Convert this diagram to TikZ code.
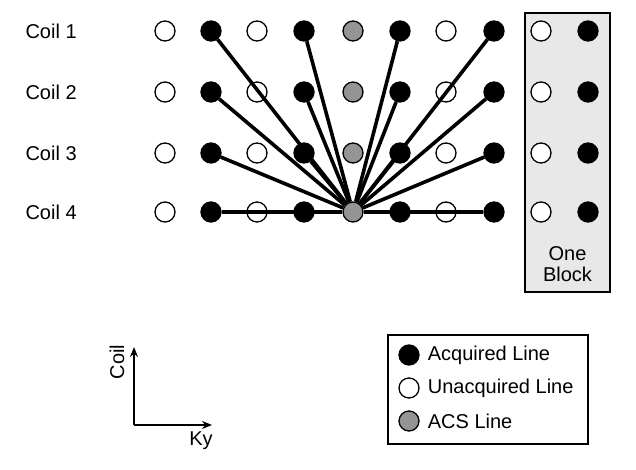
\documentclass[tikz,border=0pt]{standalone}
\usepackage{fontspec}
\setmainfont{Liberation Sans}
\usetikzlibrary{arrows.meta}
\tikzset{
  dot/.style={circle,draw,line width=1.3pt,minimum size=20pt,inner sep=0pt},
  acq/.style={dot,fill=black},
  unacq/.style={dot,fill=white},
  acs/.style={dot,fill=black!42},
  link/.style={line width=3.6pt},
  frame/.style={draw,line width=1.3pt},
  axis/.style={line width=1.5pt,-{Stealth[length=10pt,width=8pt]}}
}
\begin{document}
\begin{tikzpicture}[x=1pt,y=-1pt,font=\fontsize{20}{24}\selectfont]
        \useasboundingbox (0,0) rectangle (636,470);
        % block
        \draw[frame,fill=black!9] (525,13) rectangle (610,292);
        \node[align=center] (blk) at (567.5,264) {One\\[-3pt]Block};
        % grid of lines
        \foreach \r/\y in {1/31,2/92,3/153,4/212} {
            \node[anchor=west] (coil\r) at (22,\y) {Coil \r};
            \foreach \c/\x/\s in {1/165/unacq,2/211/acq,3/257/unacq,4/304/acq,5/353/acs,6/400/acq,7/446/unacq,8/494/acq,9/541/unacq,10/588/acq}
                \node[\s] (p\r-\c) at (\x,\y) {};
        }
        % ACS fits
        \foreach \r in {1,2,3,4}
            \foreach \c in {2,4,6,8}
                \draw[link] (p4-5) to (p\r-\c);
        % axes
        \coordinate (o) at (134,425);
        \coordinate (ytip) at (134,347);
        \coordinate (xtip) at (212,425);
        \draw[axis] (o) to (ytip);
        \draw[axis] (o) to (xtip);
        \node[rotate=90] (lcoil) at (117,362) {Coil};
        \node (lky) at (201,441) {Ky};
        % legend
        \draw[frame] (388,335) rectangle (588,444);
        \node[acq] (k1) at (409,355) {};
        \node[unacq] (k2) at (409,388) {};
        \node[acs] (k3) at (409,421) {};
        \node[anchor=west,inner sep=0pt] (t1) at ([xshift=8pt]k1.east) {Acquired Line};
        \node[anchor=west,inner sep=0pt] (t2) at ([xshift=8pt]k2.east) {Unacquired Line};
        \node[anchor=west,inner sep=0pt] (t3) at ([xshift=8pt]k3.east) {ACS Line};
    \end{tikzpicture}
\end{document}
